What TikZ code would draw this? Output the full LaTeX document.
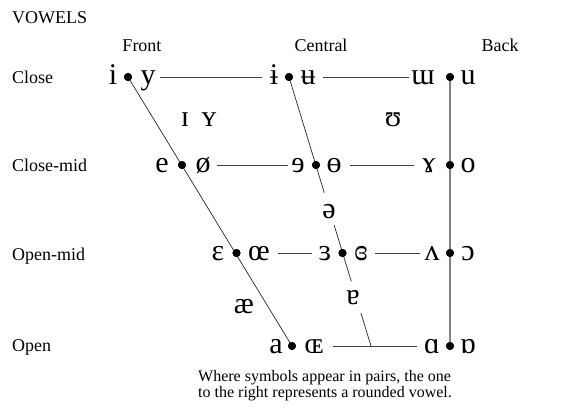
\documentclass[tikz,border=0pt]{standalone}
\usepackage{fontspec}
\setmainfont{Liberation Serif}
\newfontfamily\ipafont{Liberation Serif}
\usetikzlibrary{calc}
\begin{document}
\begin{tikzpicture}[x=1pt,y=-1pt,
  lbl/.style={font=\fontsize{18}{20}\selectfont, inner sep=0pt, anchor=base},
  lbll/.style={lbl, anchor=base west},
  ipa/.style={font=\ipafont\fontsize{30}{32}\selectfont, inner sep=0pt, anchor=base},
  dotn/.style={circle, fill=black, inner sep=0pt, minimum size=8pt},
  hline/.style={draw=black!75, line width=0.9pt},
  dline/.style={draw=black!85, line width=0.7pt},
  vline/.style={draw=black!50, line width=1.3pt},
  note/.style={font=\fontsize{16}{16}\selectfont, inner sep=0pt, anchor=base west}]
\useasboundingbox (0,0) rectangle (574,413);
% headings
\node[lbll] (vow) at (12,23.3) {VOWELS};
\node[lbl] (front) at (142,51.7) {Front};
\node[lbl] (central) at (321,51.7) {Central};
\node[lbl] (back) at (500,51.7) {Back};
\node[lbll] (close) at (12,83.3) {Close};
\node[lbll] (closemid) at (12,171.7) {Close-mid};
\node[lbll] (openmid) at (12,260) {Open-mid};
\node[lbll] (open) at (12,351.7) {Open};
% dots
\node[dotn] (d1) at (128,77) {};
\node[dotn] (d2) at (289,77) {};
\node[dotn] (d3) at (450,77) {};
\node[dotn] (d4) at (182,165) {};
\node[dotn] (d5) at (316,165) {};
\node[dotn] (d6) at (450,165) {};
\node[dotn] (d7) at (236.5,253) {};
\node[dotn] (d8) at (342.5,253) {};
\node[dotn] (d9) at (450,253) {};
\node[dotn] (d10) at (292,346) {};
\node[dotn] (d12) at (450,346) {};
\coordinate (cj) at (371,346);
% symbols
\node[ipa] (i) at (113,84.5) {i};
\node[ipa] (y) at (148,84.5) {y};
\node[ipa] (ibar) at (274,84.5) {ɨ};
\node[ipa] (ubar) at (308,84.5) {ʉ};
\node[ipa] (turnm) at (423,84.5) {ɯ};
\node[ipa] (u) at (468,84.5) {u};
\node[ipa] (smallI) at (185,126.5) {ɪ};
\node[ipa] (smallY) at (209,126.5) {ʏ};
\node[ipa] (upsilon) at (393,126.5) {ʊ};
\node[ipa] (e) at (162,172.5) {e};
\node[ipa] (oslash) at (203,172.5) {ø};
\node[ipa] (reve) at (298,172.5) {ɘ};
\node[ipa] (baro) at (334,172.5) {ɵ};
\node[ipa] (ramshorn) at (429,172.5) {ɤ};
\node[ipa] (o) at (468,172.5) {o};
\node[ipa] (schwa) at (329,218) {ə};
\node[ipa] (epsilon) at (218,260.5) {ɛ};
\node[ipa] (oe) at (259,260.5) {œ};
\node[ipa] (reveps) at (325,260.5) {ɜ};
\node[ipa] (closedeps) at (361,260.5) {ɞ};
\node[ipa] (turnv) at (432,260.5) {ʌ};
\node[ipa] (openo) at (468,260.5) {ɔ};
\node[ipa] (ae) at (244,313) {æ};
\node[ipa] (turna) at (353,304) {ɐ};
\node[ipa] (a) at (276,353.5) {a};
\node[ipa] (OE) at (314,353.5) {ɶ};
\node[ipa] (alpha) at (432,353.5) {ɑ};
\node[ipa] (turnalpha) at (468,353.5) {ɒ};
% connectors
\draw[hline] ([xshift=32pt]d1.center) -- ([xshift=-27pt]d2.center);
\draw[hline] ([xshift=34pt]d2.center) -- ([xshift=-41pt]d3.center);
\draw[hline] ([xshift=35pt]d4.center) -- ([xshift=-28pt]d5.center);
\draw[hline] ([xshift=34pt]d5.center) -- ([xshift=-36pt]d6.center);
\draw[hline] ([xshift=41.5pt]d7.center) -- ([xshift=-30.5pt]d8.center);
\draw[hline] ([xshift=32.5pt]d8.center) -- ([xshift=-30pt]d9.center);
\draw[hline] ([xshift=41pt]d10.center) -- ([xshift=-33pt]d12.center);
\draw[dline] (d1.center) -- (d10.center);
\draw[dline] (d2.center) -- ($(d2.center)!0.43!(cj)$);
\draw[dline] ($(d2.center)!0.55!(cj)$) -- ($(d2.center)!0.76!(cj)$);
\draw[dline] ($(d2.center)!0.877!(cj)$) -- (cj);
\draw[vline] (d3.center) -- (d12.center);
\foreach \d in {d1,d2,d3,d4,d5,d6,d7,d8,d9,d10,d12} \fill (\d) circle (4pt);
% note
\node[note] (n1) at (198,381.7) {Where symbols appear in pairs, the one};
\node[note] (n2) at (198,397.3) {to the right represents a rounded vowel.};
\end{tikzpicture}
\end{document}
